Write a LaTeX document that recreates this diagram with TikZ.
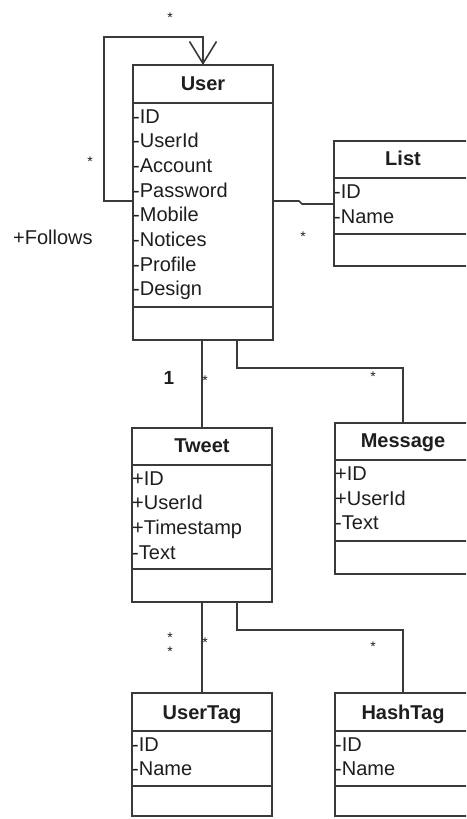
\documentclass[tikz,border=0pt]{standalone}
\usepackage{fontspec}
\setmainfont{Liberation Sans}
\usetikzlibrary{arrows.meta,calc}

\definecolor{linegray}{HTML}{3A3A3A}
\definecolor{textgray}{HTML}{1E1E1E}

% horizontal compartment rules of a class box, measured down from its top
\newcommand\classrules[3]{%
  \draw[ink] ($(#1.north west)+(0,#2)$) -- ($(#1.north east)+(0,#2)$);
  \draw[ink] ($(#1.north west)+(0,#3)$) -- ($(#1.north east)+(0,#3)$);
}

\begin{document}
\begin{tikzpicture}[x=1pt,y=-1pt,
  ink/.style={draw=linegray, line width=1.6pt},
  classbox/.style={ink, rectangle, inner sep=0pt, outer sep=0pt, fill=white},
  classtitle/.style={font=\fontsize{20}{24}\selectfont\bfseries, text=textgray, inner sep=0pt, anchor=base},
  attr/.style={font=\fontsize{20}{24}\selectfont, text=textgray, inner sep=0pt, anchor=base west},
  mult/.style={font=\fontsize{14}{16}\selectfont, text=textgray, inner sep=0pt, anchor=base},
  rolename/.style={font=\fontsize{20}{24}\selectfont, text=textgray, inner sep=0pt, anchor=base west},
  assoc/.style={ink, line join=miter}
]
\useasboundingbox (0,0) rectangle (466,819);
\clip (0,0) rectangle (466,819);
\fill[white] (0,0) rectangle (466,819);

% class outlines
\node[classbox, minimum width=140pt, minimum height=275pt] (user)    at (203,202.5) {};
\node[classbox, minimum width=138pt, minimum height=125pt] (list)    at (403,203.5) {};
\node[classbox, minimum width=140pt, minimum height=174pt] (tweet)   at (202,515)   {};
\node[classbox, minimum width=136pt, minimum height=151pt] (message) at (403,498.5) {};
\node[classbox, minimum width=140pt, minimum height=123pt] (usertag) at (202,754.5) {};
\node[classbox, minimum width=136pt, minimum height=123pt] (hashtag) at (403,754.5) {};

% associations
\draw[assoc, -{Straight Barb[length=22pt, width=27pt]}]
  ($(user.north west)+(0,136)$) -- ++(-29,0) |- ($(user.north)+(0,-28)$) -- (user.north);
\draw[assoc] ($(user.north east)+(0,136)$) -- ++(26,0) -- ++(3,3) -- ($(list.north west)+(0,63)$);
\draw[assoc] (tweet.north |- user.south) -- (tweet.north);
\draw[assoc] ($(user.south)+(34,0)$) -- ++(0,28) -| (message.north);
\draw[assoc] (tweet.south) -- (usertag.north);
\draw[assoc] ($(tweet.south)+(35,0)$) -- ++(0,28) -| (hashtag.north);

% compartments
\classrules{user}{38}{242}
\classrules{list}{37}{93}
\classrules{tweet}{37}{141}
\classrules{message}{37}{118}
\classrules{usertag}{38}{93}
\classrules{hashtag}{38}{93}

% titles
\node[classtitle] (userT)    at (203,90)  {User};
\node[classtitle] (listT)    at (403,165) {List};
\node[classtitle] (tweetT)   at (202,452) {Tweet};
\node[classtitle] (messageT) at (403,447) {Message};
\node[classtitle] (usertagT) at (202,719) {UserTag};
\node[classtitle] (hashtagT) at (403,719) {HashTag};

% attributes
\foreach \t [count=\i from 0] in {-ID,-UserId,-Account,-Password,-Mobile,-Notices,-Profile,-Design}
  \node[attr] (userA\i) at (133,123+24.7*\i) {\t};
\foreach \t [count=\i from 0] in {-ID,-Name}
  \node[attr] (listA\i) at (334,198.5+24.7*\i) {\t};
\foreach \t [count=\i from 0] in {+ID,+UserId,+Timestamp,-Text}
  \node[attr] (tweetA\i) at (132,485+24.7*\i) {\t};
\foreach \t [count=\i from 0] in {+ID,+UserId,-Text}
  \node[attr] (messageA\i) at (335,480.5+24.7*\i) {\t};
\foreach \t [count=\i from 0] in {-ID,-Name}
  \node[attr] (usertagA\i) at (132,751+24.7*\i) {\t};
\foreach \t [count=\i from 0] in {-ID,-Name}
  \node[attr] (hashtagA\i) at (335,751+24.7*\i) {\t};

% multiplicities and role name
\node[mult] (mFollowTop)  at (170,22)  {*};
\node[mult] (mFollowLeft) at (90,166)  {*};
\node[rolename] (follows) at (13,244)  {+Follows};
\node[mult] (mList)       at (303,241) {*};
\node[mult, font=\fontsize{19}{22}\selectfont\bfseries] (mTweetOne) at (169,384) {1};
\node[mult] (mTweetMany)  at (205,385) {*};
\node[mult] (mMessage)    at (373,381) {*};
\node[mult] (mUTagA)      at (170,642) {*};
\node[mult] (mUTagB)      at (170,656) {*};
\node[mult] (mUTagC)      at (205,647) {*};
\node[mult] (mHashTag)    at (373,651) {*};
\end{tikzpicture}
\end{document}
